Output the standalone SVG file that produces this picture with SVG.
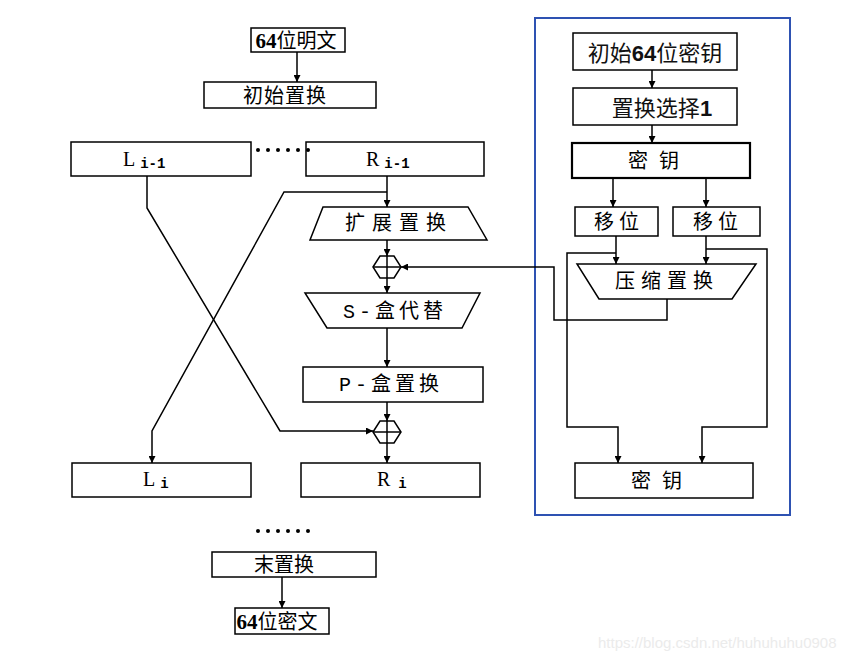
<svg xmlns="http://www.w3.org/2000/svg" width="861" height="662" viewBox="0 0 861 662">
<style>
.box{fill:#fff;stroke:#000;stroke-width:1.5}
.thick{stroke-width:2.2}
.ln{fill:none;stroke:#000;stroke-width:1.5}
.cn{font-family:"Noto Sans CJK SC","Noto Sans",sans-serif;font-size:20px;fill:#000;text-anchor:middle}
.cnb{font-family:"Noto Sans CJK SC","Noto Sans",sans-serif;font-size:22px;fill:#111;text-anchor:middle}
.lat{font-family:"Liberation Serif",serif;font-size:20px;fill:#000}
.sub{font-family:"Liberation Mono",monospace;font-size:14px;font-weight:bold;fill:#000}
.dot{fill:#000}
</style>
<defs>
<marker id="ah" viewBox="0 0 10 10" refX="10" refY="5" markerWidth="7" markerHeight="7" orient="auto" markerUnits="userSpaceOnUse">
<path d="M0,0 L10,5 L0,10 Z" fill="#000"/>
</marker>
</defs>
<rect width="861" height="662" fill="#fff"/>

<g id="plaintext">
<rect class="box" x="251" y="28" width="94" height="24"/>
<text class="cn" x="296" y="48"><tspan font-family="Liberation Serif" font-weight="bold" font-size="21">64</tspan>位明文</text>
</g>
<g id="ip">
<rect class="box" x="204" y="82" width="172" height="26"/>
<text class="cn" x="285" y="103" letter-spacing="1">初始置换</text>
</g>
<g id="lprev">
<rect class="box" x="71" y="142" width="180" height="34"/>
<text x="123" y="166"><tspan class="lat">L</tspan><tspan class="sub" dx="5" dy="2">i-1</tspan></text>
</g>
<g id="rprev">
<rect class="box" x="306" y="142" width="178" height="34"/>
<text x="366" y="166"><tspan class="lat">R</tspan><tspan class="sub" dx="5" dy="2">i-1</tspan></text>
</g>
<g id="dots1">
<circle class="dot" cx="258" cy="150" r="2"/><circle class="dot" cx="268" cy="150" r="2"/><circle class="dot" cx="278" cy="150" r="2"/><circle class="dot" cx="288" cy="150" r="2"/><circle class="dot" cx="298" cy="150" r="2"/><circle class="dot" cx="308" cy="150" r="2"/>
</g>
<g id="expand">
<polygon class="box" points="323,207 468,207 487,240 310,240"/>
<text class="cn" x="399" y="230" letter-spacing="7">扩展置换</text>
</g>
<g id="xor1">
<polygon class="box" points="373,267 380,256 394,256 401,267 394,278 380,278"/>
<line class="ln" x1="373" y1="267" x2="401" y2="267"/>
<line class="ln" x1="387" y1="256" x2="387" y2="278"/>
</g>
<g id="sbox">
<polygon class="box" points="305,293 480,293 462,328 327,328"/>
<text class="cn" x="395" y="318" letter-spacing="4"><tspan font-family="Liberation Mono" font-size="20">S-</tspan>盒代替</text>
</g>
<g id="pbox">
<rect class="box" x="303" y="367" width="180" height="35"/>
<text class="cn" x="391" y="391" letter-spacing="4"><tspan font-family="Liberation Mono" font-size="20">P-</tspan>盒置换</text>
</g>
<g id="xor2">
<polygon class="box" points="373,432 380,421 394,421 401,432 394,443 380,443"/>
<line class="ln" x1="373" y1="432" x2="401" y2="432"/>
<line class="ln" x1="387" y1="421" x2="387" y2="443"/>
</g>
<g id="li">
<rect class="box" x="72" y="463" width="179" height="34"/>
<text x="143" y="486"><tspan class="lat">L</tspan><tspan class="sub" dx="5" dy="2">i</tspan></text>
</g>
<g id="ri">
<rect class="box" x="301" y="463" width="179" height="34"/>
<text x="377" y="486"><tspan class="lat">R</tspan><tspan class="sub" dx="8" dy="2">i</tspan></text>
</g>
<g id="dots2">
<circle class="dot" cx="258" cy="531" r="2"/><circle class="dot" cx="268" cy="531" r="2"/><circle class="dot" cx="278" cy="531" r="2"/><circle class="dot" cx="288" cy="531" r="2"/><circle class="dot" cx="298" cy="531" r="2"/><circle class="dot" cx="308" cy="531" r="2"/>
</g>
<g id="fp">
<rect class="box" x="212" y="552" width="164" height="25"/>
<text class="cn" x="284" y="572">末置换</text>
</g>
<g id="ciphertext">
<rect class="box" x="235" y="608" width="94" height="26"/>
<text class="cn" x="277" y="629"><tspan font-family="Liberation Serif" font-weight="bold" font-size="21">64</tspan>位密文</text>
</g>

<g id="keypanel">
<rect x="535" y="18" width="255" height="497" fill="none" stroke="#2E52B2" stroke-width="2"/>
</g>
<g id="initkey">
<rect class="box" x="573" y="33" width="164" height="37"/>
<text class="cnb" x="655" y="61">初始<tspan font-family="Liberation Sans" font-weight="bold">64</tspan>位密钥</text>
</g>
<g id="pc1">
<rect class="box" x="573" y="88" width="164" height="37"/>
<text class="cnb" x="662" y="116">置换选择<tspan font-family="Liberation Sans" font-weight="bold">1</tspan></text>
</g>
<g id="key1">
<rect class="box thick" x="572" y="143" width="178" height="35"/>
<text class="cn" x="659" y="168" letter-spacing="11">密钥</text>
</g>
<g id="shiftL">
<rect class="box" x="575" y="207" width="83" height="29"/>
<text class="cn" x="619" y="229" letter-spacing="5">移位</text>
</g>
<g id="shiftR">
<rect class="box" x="673" y="207" width="87" height="29"/>
<text class="cn" x="718" y="229" letter-spacing="5">移位</text>
</g>
<g id="pc2">
<polygon class="box" points="577,264 756,264 732,299 599,299"/>
<text class="cn" x="667" y="288" letter-spacing="6">压缩置换</text>
</g>
<g id="key2">
<rect class="box" x="575" y="463" width="178" height="35"/>
<text class="cn" x="662" y="488" letter-spacing="11">密钥</text>
</g>
<g id="watermark">
<text x="598" y="648" font-family="Liberation Sans,sans-serif" font-size="15" fill="#ebebeb">https://blog.csdn.net/huhuhuhu0908</text>
</g>

<g id="connectors">
<line class="ln" x1="297" y1="52" x2="297" y2="82" marker-end="url(#ah)"/>
<line class="ln" x1="387" y1="176" x2="387" y2="207" marker-end="url(#ah)"/>
<polyline class="ln" points="387,192 284,192 152,431 152,463" marker-end="url(#ah)"/>
<polyline class="ln" points="147,176 147,208 280,431 373,431" marker-end="url(#ah)"/>
<line class="ln" x1="387" y1="240" x2="387" y2="256" marker-end="url(#ah)"/>
<line class="ln" x1="387" y1="278" x2="387" y2="293" marker-end="url(#ah)"/>
<line class="ln" x1="387" y1="328" x2="387" y2="367" marker-end="url(#ah)"/>
<line class="ln" x1="387" y1="402" x2="387" y2="421" marker-end="url(#ah)"/>
<line class="ln" x1="387" y1="443" x2="387" y2="463" marker-end="url(#ah)"/>
<line class="ln" x1="282" y1="577" x2="282" y2="608" marker-end="url(#ah)"/>
<polyline class="ln" points="667,299 667,320 554,320 554,267 401,267" marker-end="url(#ah)"/>
<line class="ln" x1="652" y1="70" x2="652" y2="88" marker-end="url(#ah)"/>
<line class="ln" x1="652" y1="125" x2="652" y2="143" marker-end="url(#ah)"/>
<line class="ln" x1="613" y1="178" x2="613" y2="207" marker-end="url(#ah)"/>
<line class="ln" x1="706" y1="178" x2="706" y2="207" marker-end="url(#ah)"/>
<line class="ln" x1="616" y1="236" x2="616" y2="264" marker-end="url(#ah)"/>
<line class="ln" x1="706" y1="236" x2="706" y2="264" marker-end="url(#ah)"/>
<polyline class="ln" points="616,253 567,253 567,427 618,427 618,463" marker-end="url(#ah)"/>
<polyline class="ln" points="706,249 767,249 767,427 702,427 702,463" marker-end="url(#ah)"/>
</g>
</svg>
